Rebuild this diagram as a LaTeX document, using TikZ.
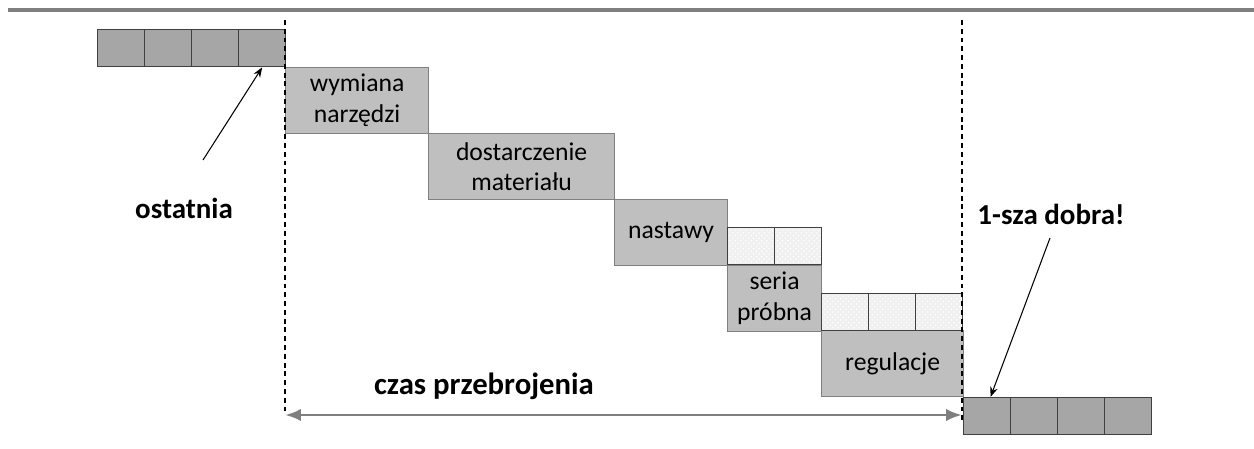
\documentclass[tikz,border=0pt]{standalone}
\usepackage{fontspec}
\setmainfont{Carlito}
\usepackage{tikz}
\usetikzlibrary{arrows.meta, positioning, patterns}

\definecolor{celldark}{HTML}{A6A6A6}
\definecolor{stepfill}{HTML}{BFBFBF}
\definecolor{linegray}{HTML}{7F7F7F}

\tikzset{
  cell/.style={draw=black!75, fill=celldark, line width=0.8pt, anchor=north west,
    minimum width=0.94cm, minimum height=0.74cm, inner sep=0pt},
  dotcell/.style={draw=black!75, line width=0.8pt, anchor=north west,
    pattern color=white, minimum width=0.94cm, minimum height=0.74cm, inner sep=0pt},
  stepbox/.style={draw=gray, fill=stepfill, line width=0.7pt, anchor=north west,
    minimum height=1.32cm, inner sep=0pt, align=center,
    font=\fontsize{14.6}{17.5}\selectfont},
  label/.style={font=\fontsize{16.5}{19}\selectfont\bfseries},
  limit/.style={dash pattern=on 2.8pt off 2.2pt, line width=0.7pt},
}

\begin{document}
\begin{tikzpicture}[x=0.02cm, y=-0.02cm, >=Stealth]
  \useasboundingbox (0,0) rectangle (1254,449);
  % Top rule
  \draw[linegray, line width=2.3pt] (8,10) -- (1254,10);
  % Last part of previous batch
  \foreach \i in {0,...,3}
    \node[cell] (last\i) at ({97+47*\i},29) {};
  % Changeover steps
  \node[stepbox, minimum width=2.86cm] (tools) at (285,67) {wymiana\\narzędzi};
  \node[stepbox, minimum width=3.72cm] (supply) at (428,133) {dostarczenie\\materiału};
  \node[stepbox, minimum width=2.26cm] (setup) at (614,199) {nastawy};
  \node[stepbox, minimum width=1.88cm] (trial) at (727,265) {seria\\próbna};
  \node[stepbox, minimum width=2.84cm] (adjust) at (821,330) {regulacje};
  % Trial pieces
  \foreach \i in {0,1}
    \fill[gray!12] ({727+47*\i},227) rectangle ++(47,37);
  \foreach \i in {0,1}
    \node[dotcell, pattern=crosshatch dots] (tryA\i) at ({727+47*\i},227) {};
  \foreach \i in {0,1,2}
    \fill[gray!12] ({821+47*\i},293) rectangle ++(47,37);
  \foreach \i in {0,1,2}
    \node[dotcell, pattern=crosshatch dots] (tryB\i) at ({821+47*\i},293) {};
  % First good parts
  \foreach \i in {0,...,3}
    \node[cell] (first\i) at ({963+47*\i},397) {};
  % Limits of changeover time
  \coordinate (startT) at (285,415);
  \coordinate (endT) at (962,415);
  \draw[limit] (285,20) -- (startT);
  \draw[limit] (962,20) -- (962,423);
  \draw[{Latex[length=9pt,width=7pt]}-{Latex[length=9pt,width=7pt]}, linegray, line width=1.7pt]
    (startT) -- (endT);
  \node[label] (czas) at (484,386) {\fontsize{17.5}{20}\selectfont czas przebrojenia};
  % Pointers
  \node[label] (ostatnia) at (184,208) {ostatnia};
  \coordinate (ostTail) at (203,160);
  \draw[->, line width=0.6pt] (ostTail) -- (last3.south);
  \node[label] (dobra) at (1051,214) {1-sza dobra!};
  \coordinate (dobTail) at (1050,238);
  \draw[->, line width=0.6pt] (dobTail) -- ([xshift=0.55cm]first0.north west);
\end{tikzpicture}
\end{document}
